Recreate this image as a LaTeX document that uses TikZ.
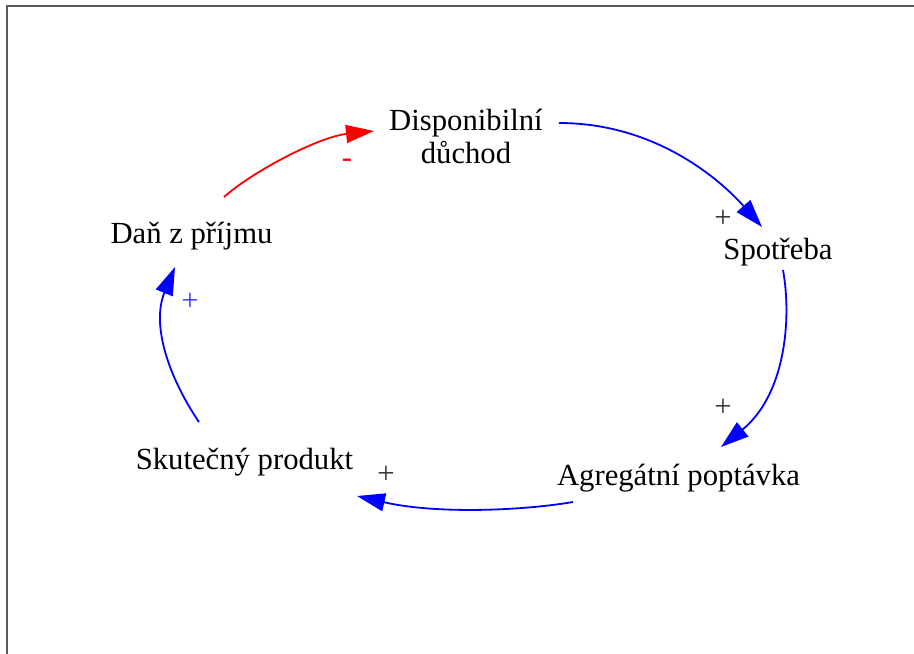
\documentclass[tikz,border=0pt]{standalone}
\usepackage{fontspec}
\setmainfont{Liberation Serif}
\usetikzlibrary{arrows.meta}
\definecolor{framegray}{rgb}{0.35,0.35,0.35}
\definecolor{plusgray}{rgb}{0.2,0.2,0.2}
\definecolor{plusblue}{rgb}{0.25,0.25,1}
\tikzset{
  lbl/.style={inner sep=0pt, font=\fontsize{30.7}{33}\selectfont},
  sgn/.style={inner sep=0pt, font=\fontsize{30.7}{33}\selectfont},
  poslink/.style={line width=1.8pt, draw=blue, -{Triangle[length=28pt,width=18pt,fill=blue]}},
  neglink/.style={line width=1.8pt, draw=red, -{Triangle[length=28pt,width=18pt,fill=red]}},
}
\begin{document}
\begin{tikzpicture}[x=1pt,y=-1pt]
\useasboundingbox (0,0) rectangle (914,654);
\draw[framegray, line width=2pt] (6.5,654) -- (6.5,5.5) -- (914,5.5);

\node[lbl, align=center] (disp) at (466,136) {Disponibilní\\důchod};
\node[lbl, anchor=base] (spot) at (778,259) {Spotřeba};
\node[lbl, anchor=base] (agg) at (678.5,485) {Agregátní poptávka};
\node[lbl, anchor=base] (skut) at (244.5,469) {Skutečný produkt};
\node[lbl, anchor=base] (dan) at (191.5,243) {Daň z příjmu};

\draw[neglink] ([shift={(32.5,-46)}]dan.base) .. controls (252,172) and (318,137) .. ([shift={(-92,-5)}]disp.center);
\draw[poslink] ([shift={(93,-13)}]disp.center) .. controls (660,123) and (725,185) .. ([shift={(-16,-32)}]spot.base);
\draw[poslink] ([shift={(5,11)}]spot.base) .. controls (792,320) and (785,395) .. ([shift={(42.5,-38)}]agg.base);
\draw[poslink] ([shift={(-105.5,17)}]agg.base) .. controls (520,511) and (435,514) .. ([shift={(112.5,27)}]skut.base);
\draw[poslink] ([shift={(-45.5,-47)}]skut.base) .. controls (169,378) and (151,325) .. ([shift={(-16.5,24)}]dan.base);

\node[sgn, text=red, anchor=base] (sminus) at (347,167) {-};
\node[sgn, text=plusgray] (splus1) at (723,219) {+};
\node[sgn, text=plusgray] (splus2) at (723,408) {+};
\node[sgn, text=plusgray] (splus3) at (386,475) {+};
\node[sgn, text=plusblue] (splus4) at (190,302) {+};
\end{tikzpicture}
\end{document}
